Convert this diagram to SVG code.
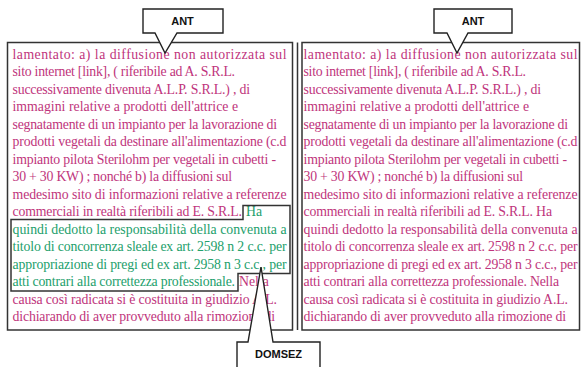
<svg xmlns="http://www.w3.org/2000/svg" width="584" height="367" viewBox="0 0 584 367">
<style>
.frame{fill:#fff;stroke:#333;stroke-width:1.5}
.t{font-family:"Liberation Serif","Times New Roman",serif;font-size:13.8px}
.m{fill:#C0347C}
.g{fill:#23A06C}
.call{fill:#fff;stroke:#222;stroke-width:1.4;stroke-linejoin:miter}
.lab{font-family:"Liberation Sans",Arial,sans-serif;font-size:11px;font-weight:bold;fill:#111;text-anchor:middle}
</style>
<rect width="584" height="367" fill="#fff"/>
<g id="page-left">
<rect class="frame" x="7.5" y="42.5" width="285" height="287.5"/>
<g class="t m">
<text x="12.5" y="58.5" textLength="274" lengthAdjust="spacing">lamentato: a) la diffusione non autorizzata sul</text>
<text x="12.5" y="76" textLength="222.5" lengthAdjust="spacing">sito  internet [link], ( riferibile ad A. S.R.L.</text>
<text x="12.5" y="93.5" textLength="237.5" lengthAdjust="spacing">successivamente divenuta A.L.P. S.R.L.) , di</text>
<text x="12.5" y="111" textLength="225.5" lengthAdjust="spacing">immagini relative a prodotti dell'attrice e</text>
<text x="12.5" y="128.5" textLength="264.5" lengthAdjust="spacing">segnatamente di un impianto per la lavorazione di</text>
<text x="12.5" y="146" textLength="274" lengthAdjust="spacing">prodotti vegetali da destinare all'alimentazione (c.d</text>
<text x="12.5" y="163.5" textLength="263.5" lengthAdjust="spacing">impianto pilota Sterilohm per vegetali in cubetti -</text>
<text x="12.5" y="181" textLength="219.5" lengthAdjust="spacing">30 + 30 KW) ; nonché b) la diffusioni sul</text>
<text x="12.5" y="198.5" textLength="274" lengthAdjust="spacing">medesimo sito di informazioni relative a referenze</text>
<text x="12.5" y="216" textLength="229.5" lengthAdjust="spacing">commerciali in realtà riferibili ad E. S.R.L.</text>
<text x="239" y="286">Nella</text>
<text x="12.5" y="303.5" textLength="264.5" lengthAdjust="spacing">causa così radicata si è costituita in giudizio A.L.</text>
<text x="12.5" y="321" textLength="262.5" lengthAdjust="spacing">dichiarando di aver provveduto alla rimozione di</text>
</g>
<g class="t g">
<text x="246" y="216">Ha</text>
<text x="12.5" y="233.5" textLength="274" lengthAdjust="spacing">quindi dedotto la responsabilità della convenuta a</text>
<text x="12.5" y="251" textLength="274" lengthAdjust="spacing">titolo di concorrenza sleale ex art. 2598 n 2 c.c. per</text>
<text x="12.5" y="268.5" textLength="274" lengthAdjust="spacing">appropriazione di pregi ed ex art. 2958 n 3 c.c., per</text>
<text x="12.5" y="286" textLength="222.5" lengthAdjust="spacing">atti contrari alla correttezza professionale.</text>
</g>
</g>
<g id="domsez-region">
<path d="M243,205.5 H290 V273.5 H238 V291 H11 V219.5 H243 Z" fill="none" stroke="#333" stroke-width="1.5"/>
</g>
<g id="separator">
<line x1="297.5" y1="42.5" x2="297.5" y2="330" stroke="#333" stroke-width="1.5"/>
</g>
<g id="page-right">
<rect class="frame" x="302" y="42.5" width="277.5" height="287.5"/>
<g class="t m">
<text x="303.5" y="58.5" textLength="274" lengthAdjust="spacing">lamentato: a) la diffusione non autorizzata sul</text>
<text x="303.5" y="76" textLength="222.5" lengthAdjust="spacing">sito  internet [link], ( riferibile ad A. S.R.L.</text>
<text x="303.5" y="93.5" textLength="237.5" lengthAdjust="spacing">successivamente divenuta A.L.P. S.R.L.) , di</text>
<text x="303.5" y="111" textLength="225.5" lengthAdjust="spacing">immagini relative a prodotti dell'attrice e</text>
<text x="303.5" y="128.5" textLength="264.5" lengthAdjust="spacing">segnatamente di un impianto per la lavorazione di</text>
<text x="303.5" y="146" textLength="274" lengthAdjust="spacing">prodotti vegetali da destinare all'alimentazione (c.d</text>
<text x="303.5" y="163.5" textLength="263.5" lengthAdjust="spacing">impianto pilota Sterilohm per vegetali in cubetti -</text>
<text x="303.5" y="181" textLength="219.5" lengthAdjust="spacing">30 + 30 KW) ; nonché b) la diffusioni sul</text>
<text x="303.5" y="198.5" textLength="274" lengthAdjust="spacing">medesimo sito di informazioni relative a referenze</text>
<text x="303.5" y="216" textLength="248.5" lengthAdjust="spacing">commerciali in realtà riferibili ad E. S.R.L. Ha</text>
<text x="303.5" y="233.5" textLength="274" lengthAdjust="spacing">quindi dedotto la responsabilità della convenuta a</text>
<text x="303.5" y="251" textLength="274" lengthAdjust="spacing">titolo di concorrenza sleale ex art. 2598 n 2 c.c. per</text>
<text x="303.5" y="268.5" textLength="274" lengthAdjust="spacing">appropriazione di pregi ed ex art. 2958 n 3 c.c., per</text>
<text x="303.5" y="286" textLength="255.5" lengthAdjust="spacing">atti contrari alla correttezza professionale. Nella</text>
<text x="303.5" y="303.5" textLength="264.5" lengthAdjust="spacing">causa così radicata si è costituita in giudizio A.L.</text>
<text x="303.5" y="321" textLength="262.5" lengthAdjust="spacing">dichiarando di aver provveduto alla rimozione di</text>
</g>
</g>
<g id="connectors">
<g id="callout-ant-left">
<path class="call" d="M143,9 H223 V33 H177 L165,53 L155,33 H143 Z"/>
<text class="lab" x="182.5" y="25">ANT</text>
</g>
<g id="callout-ant-right">
<path class="call" d="M434,9 H512 V33 H468 L457,53 L447,33 H434 Z"/>
<text class="lab" x="473" y="25">ANT</text>
</g>
<g id="callout-domsez">
<path class="call" d="M237,342 H248 L261,267 L273,342 H320 V372 H237 Z"/>
<text class="lab" x="278.5" y="358">DOMSEZ</text>
</g>
</g>
</svg>
